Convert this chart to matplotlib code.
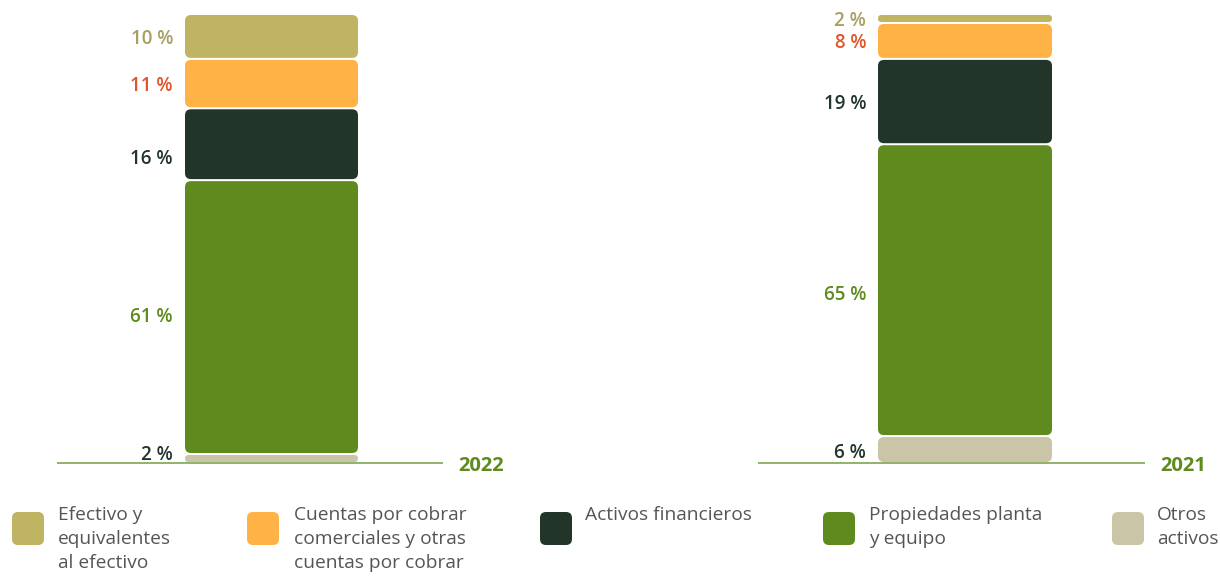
import matplotlib
matplotlib.use("Agg")
import matplotlib.pyplot as plt
from matplotlib.patches import FancyBboxPatch
import numpy as np

# ---------------- data ----------------
years = ["2022", "2021"]
categories = ["Otros activos", "Propiedades planta y equipo", "Activos financieros",
              "Cuentas por cobrar comerciales y otras cuentas por cobrar",
              "Efectivo y equivalentes al efectivo"]  # bottom -> top
values_2022 = [2, 61, 16, 11, 10]
values_2021 = [6, 65, 19, 8, 2]
labels_2022 = ["2 %", "61 %", "16 %", "11 %", "10 %"]
labels_2021 = ["6 %", "65 %", "19 %", "8 %", "2 %"]

legend_order = [4, 3, 2, 1, 0]
legend_texts = ["Efectivo y\nequivalentes\nal efectivo",
                "Cuentas por cobrar\ncomerciales y otras\ncuentas por cobrar",
                "Activos financieros",
                "Propiedades planta\ny equipo",
                "Otros\nactivos"]

# ---------------- style ----------------
seg_colors = ["#cbc5a8", "#5f8a1e", "#213629", "#ffb347", "#bfb462"]
lab_colors = ["#22352c", "#5f8a1e", "#22352c", "#e0562c", "#a8a060"]
year_color = "#5f8a1e"
line_color = "#7ea452"
legend_text_color = "#555555"
FONT = "Open Sans"

W, H = 1220, 579
fig = plt.figure(figsize=(W / 100, H / 100), dpi=100)

# chart geometry in pixels: (axis left, axis right, bar left, bar right)
geoms = [(57, 443, 185, 358), (758, 1145, 878, 1052)]
top_px, base_px = 14, 463
label_offsets_px = [[-4, 0, 15, 2, 3], [3, 5, 2, 2, 3]]

for (ax0, ax1, b0, b1), yr, vals, labs, offs in zip(
        geoms, years, [values_2022, values_2021], [labels_2022, labels_2021], label_offsets_px):
    ax = fig.add_axes([ax0 / W, 1 - base_px / H, (ax1 - ax0) / W, (base_px - top_px) / H])
    bw = b1 - b0
    sx = bw  # px per x unit (bar width = 1)
    sy = (base_px - top_px) / 100.0  # px per y unit
    xl = (ax0 - (b0 + b1) / 2) / bw
    xr = (ax1 - (b0 + b1) / 2) / bw
    ax.set_xlim(xl, xr)
    ax.set_ylim(0, 100)
    ax.axis("off")
    aspect = sx / sy
    gap = 1.0 / sy  # 1 px each side
    bottoms = np.concatenate([[0], np.cumsum(vals)[:-1]])
    for i, (v, b) in enumerate(zip(vals, bottoms)):
        y0 = b + gap
        h = v - 2 * gap
        h_px = h * sy
        r = min(6.0, h_px / 2) / sx
        patch = FancyBboxPatch((-0.5, y0), 1.0, h,
                               boxstyle=f"round,pad=0,rounding_size={r}",
                               mutation_aspect=aspect, linewidth=0,
                               facecolor=seg_colors[i], clip_on=False)
        ax.add_patch(patch)
        ax.text(-0.5 - 12 / sx, b + v / 2 - offs[i] / sy, labs[i], ha="right", va="center",
                fontsize=13.5, fontweight="semibold", color=lab_colors[i], family=FONT,
                clip_on=False)
    ax.plot([xl, xr], [0, 0], color=line_color, lw=1.2, clip_on=False, solid_capstyle="butt")
    ax.text(xr + 15 / sx, -3 / sy, yr, ha="left", va="center", fontsize=14.5,
            fontweight="bold", color=year_color, family=FONT, clip_on=False)

# legend
lax = fig.add_axes([0, 0, 1, 1])
lax.set_xlim(0, W)
lax.set_ylim(H, 0)
lax.axis("off")
leg_sq_x = [12, 247, 540, 823, 1112]
leg_txt_x = [58, 294, 585, 869, 1157]
for k, ci in enumerate(legend_order):
    lax.add_patch(FancyBboxPatch((leg_sq_x[k], 512), 32, 33,
                                 boxstyle="round,pad=0,rounding_size=6",
                                 facecolor=seg_colors[ci], linewidth=0))
    lax.text(leg_txt_x[k], 506, legend_texts[k], ha="left", va="top", fontsize=13.8,
             color=legend_text_color, family=FONT, linespacing=1.42)

fig.savefig("out.png", dpi=100)
